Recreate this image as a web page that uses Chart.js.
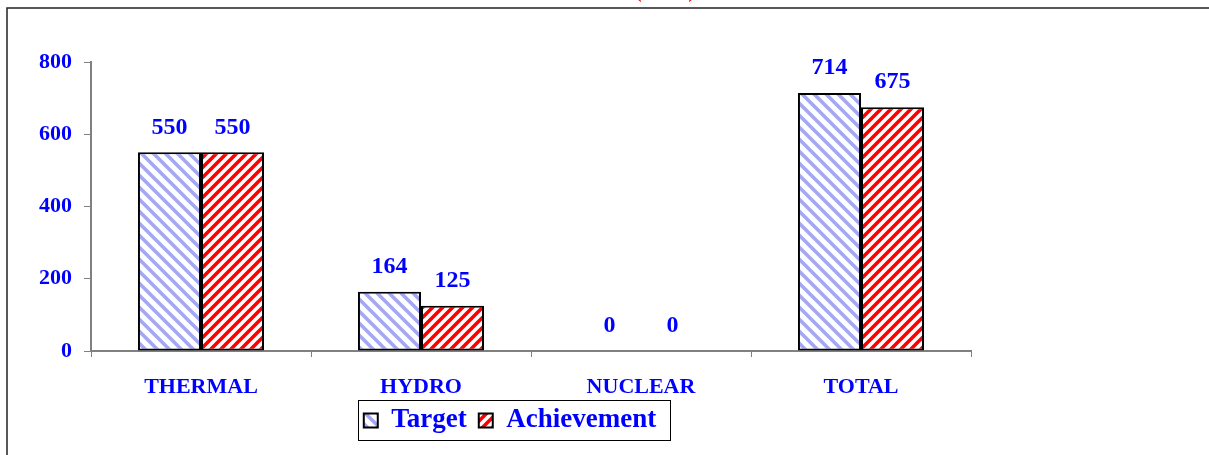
<!DOCTYPE html>
<html>
<head>
<meta charset="utf-8">
<script src="https://cdn.jsdelivr.net/npm/chart.js@4.4.0/dist/chart.umd.min.js"></script>
<style>
    html, body { margin: 0; padding: 0; background: #fff; }
    #wrap { width: 1209px; height: 455px; position: relative; }
</style>
</head>
<body>
<div id="wrap"><canvas id="chartTarget"></canvas></div>
<script>
    var categories = ['THERMAL', 'HYDRO', 'NUCLEAR', 'TOTAL'];
    var targetValues = [550, 164, 0, 714];
    var achievementValues = [550, 125, 0, 675];
    var yTicks = [0, 200, 400, 600, 800];
    var seriesNames = ['Target', 'Achievement'];

    // hatch patterns like the office chart
    function makeHatch(color, size, lineW, back) {
        let c = document.createElement('canvas');
        c.width = size; c.height = size;
        let g = c.getContext('2d');
        g.fillStyle = '#ffffff';
        g.fillRect(0, 0, size, size);
        g.strokeStyle = color;
        g.lineWidth = lineW;
        g.beginPath();
        if (back) {
            g.moveTo(-size, 0); g.lineTo(size * 2, size * 3);
            g.moveTo(-size, -size); g.lineTo(size * 2, size * 2);
            g.moveTo(0, -size); g.lineTo(size * 2, size);
            g.moveTo(-size, -2 * size); g.lineTo(size * 2, size);
            g.moveTo(-2 * size, -size); g.lineTo(size, size * 2);
        } else {
            g.moveTo(-size, size * 2); g.lineTo(size * 2, -size);
            g.moveTo(0, size * 2); g.lineTo(size * 2, 0);
            g.moveTo(-size, size); g.lineTo(size, -size);
        }
        g.stroke();
        return g.createPattern(c, 'repeat');
    }

    var blueHatch = makeHatch('#a4a8f2', 12, 3.6, true);
    var redHatch = makeHatch('#ff0000', 10, 3.6, false);

    const framePlugin = {
        id: 'framePlugin',
        beforeDraw: function (chart) {
            let ctx = chart.ctx;
            ctx.save();
            ctx.fillStyle = '#ffffff';
            ctx.fillRect(0, 0, chart.width, chart.height);
            ctx.strokeStyle = '#222222';
            ctx.lineWidth = 1.5;
            ctx.beginPath();
            ctx.moveTo(7, chart.height);
            ctx.lineTo(7, 8);
            ctx.lineTo(chart.width, 8);
            ctx.stroke();
            // title is cut off at the top of the picture
            ctx.fillStyle = '#ff0000';
            ctx.font = 'bold 24px "Liberation Serif"';
            ctx.textAlign = 'center';
            ctx.textBaseline = 'alphabetic';
            ctx.fillText('(MW)', 665, -3);
            ctx.restore();
        },
        afterLayout: function (chart) {
            // legend sits a bit right of the page centre
            chart.legend.left += 9.5;
            chart.legend.right += 9.5;
        },
        afterDraw: function (chart) {
            let ctx = chart.ctx;
            ctx.save();
            // value labels over bars
            ctx.fillStyle = '#0000ff';
            ctx.font = 'bold 24px "Liberation Serif"';
            ctx.textAlign = 'center';
            ctx.textBaseline = 'middle';
            chart.data.datasets.forEach(function (ds, i) {
                let meta = chart.getDatasetMeta(i);
                meta.data.forEach(function (bar, j) {
                    ctx.fillText(String(ds.data[j]), bar.x, bar.y - 25);
                });
            });
            // box round the legend
            let boxes = chart.legend.legendHitBoxes;
            if (boxes && boxes.length) {
                let first = boxes[0];
                let last = boxes[boxes.length - 1];
                let l = first.left - 6;
                let r = last.left + last.width + 14;
                let t = first.top + first.height / 2 - 21;
                ctx.strokeStyle = '#000000';
                ctx.lineWidth = 1;
                ctx.strokeRect(Math.round(l) + 0.5, Math.round(t) + 0.5, Math.round(r - l), 40);
            }
            ctx.restore();
        }
    };

    const legendFix = {
        id: 'legendFix',
        beforeInit: function (chart) {
            const fitValue = chart.legend.fit;
            chart.legend.fit = function fit() {
                fitValue.bind(chart.legend)();
                this.height = 56;
            }
        }
    };

    var ctx = document.getElementById('chartTarget').getContext('2d');
    var chartTarget = new Chart(ctx, {
        type: 'bar',
        data: {
            labels: categories,
            datasets: [
                {
                    label: seriesNames[0],
                    data: targetValues,
                    backgroundColor: blueHatch,
                    borderColor: '#000000',
                    borderWidth: 2,
                    borderSkipped: false,
                    categoryPercentage: 0.573,
                    barPercentage: 1.0
                },
                {
                    label: seriesNames[1],
                    data: achievementValues,
                    backgroundColor: redHatch,
                    borderColor: '#000000',
                    borderWidth: 2,
                    borderSkipped: false,
                    categoryPercentage: 0.573,
                    barPercentage: 1.0
                }
            ]
        },
        plugins: [framePlugin, legendFix],
        options: {
            responsive: true,
            maintainAspectRatio: false,
            animation: false,
            layout: {
                padding: { left: 30, right: 238, top: 62, bottom: 4 }
            },
            plugins: {
                legend: {
                    display: true,
                    position: 'bottom',
                    labels: {
                        color: '#0000ff',
                        font: { family: 'Liberation Serif', size: 27, weight: 'bold' },
                        boxWidth: 14,
                        boxHeight: 14,
                        padding: 12
                    }
                },
                tooltip: { enabled: false }
            },
            scales: {
                x: {
                    grid: {
                        display: true,
                        drawOnChartArea: false,
                        drawTicks: true,
                        tickLength: 6,
                        color: '#808080',
                        offset: true
                    },
                    border: { color: '#808080', width: 2 },
                    ticks: {
                        color: '#0000ff',
                        font: { family: 'Liberation Serif', size: 22, weight: 'bold' },
                        padding: 17
                    },
                    afterFit: function (scale) {
                        scale.height = 44;
                    }
                },
                y: {
                    min: 0,
                    max: 800,
                    afterBuildTicks: function (scale) {
                        scale.ticks = yTicks.map(function (v) { return { value: v }; });
                    },
                    grid: {
                        display: true,
                        drawOnChartArea: false,
                        drawTicks: true,
                        tickLength: 7,
                        color: '#808080'
                    },
                    border: { color: '#808080', width: 2 },
                    ticks: {
                        color: '#0000ff',
                        font: { family: 'Liberation Serif', size: 22, weight: 'bold' },
                        padding: 12
                    },
                    afterFit: function (scale) {
                        scale.width = 61;
                    }
                }
            }
        }
    });
</script>
</body>
</html>
